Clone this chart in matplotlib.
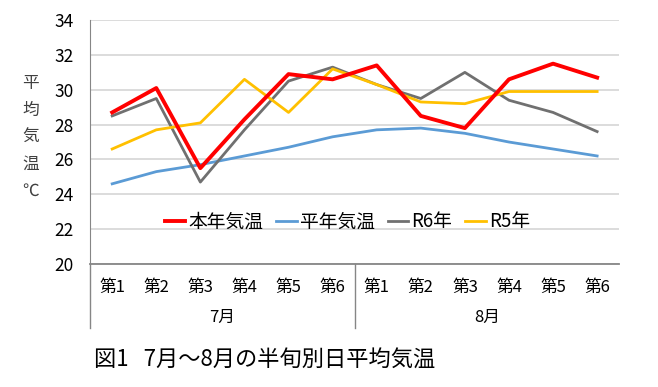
import matplotlib
matplotlib.use('Agg')
import matplotlib.pyplot as plt
from matplotlib.transforms import blended_transform_factory

plt.rcParams['font.family'] = ['Noto Sans CJK JP', 'DejaVu Sans']

# data
periods = ['第1', '第2', '第3', '第4', '第5', '第6'] * 2
months = ['7月', '8月']
honnen = [28.7, 30.1, 25.5, 28.3, 30.9, 30.6, 31.4, 28.5, 27.8, 30.6, 31.5, 30.7]
heinen = [24.6, 25.3, 25.7, 26.2, 26.7, 27.3, 27.7, 27.8, 27.5, 27.0, 26.6, 26.2]
r6 = [28.5, 29.5, 24.7, 27.7, 30.5, 31.3, 30.3, 29.5, 31.0, 29.4, 28.7, 27.6]
r5 = [26.6, 27.7, 28.1, 30.6, 28.7, 31.2, 30.3, 29.3, 29.2, 29.9, 29.9, 29.9]

fig = plt.figure(figsize=(6.58, 3.87), dpi=100)
ax = fig.add_axes([0.137, 0.318, 0.804, 0.630])

x = list(range(len(periods)))
ax.plot(x, honnen, color='#FF0000', lw=2.8, label='本年気温', zorder=5)
ax.plot(x, heinen, color='#5B9BD5', lw=2.0, label='平年気温', zorder=3)
ax.plot(x, r6, color='#707070', lw=2.0, label='R6年', zorder=3)
ax.plot(x, r5, color='#FFC000', lw=2.0, label='R5年', zorder=4)

ax.set_xlim(-0.5, len(periods) - 0.5)
ax.set_ylim(20, 34)
ax.set_yticks(range(20, 35, 2))
ax.yaxis.grid(True, color='#D9D9D9', lw=1.3)
ax.set_axisbelow(True)
for s in ['top', 'right']:
    ax.spines[s].set_visible(False)
ax.spines['left'].set_color('#868686')
ax.spines['bottom'].set_color('#868686')
ax.spines['bottom'].set_linewidth(1.3)
ax.tick_params(axis='y', length=0, labelsize=12.5, pad=12, labelcolor='#000000')
ax.set_xticks(x)
ax.set_xticklabels(periods)
ax.tick_params(axis='x', length=0, labelsize=12, pad=11)

# month labels and separators
trans = blended_transform_factory(ax.transData, ax.transAxes)
for i, m in enumerate(months):
    ax.text(i * 6 + 2.5, -0.218, m, transform=trans, ha='center', va='center', fontsize=12)
for xs in [-0.5, 5.5]:
    ax.plot([xs, xs], [0, -0.262], transform=trans, color='#868686', lw=1.0, clip_on=False)

ax.legend(loc='center', bbox_to_anchor=(0.486, 0.172), ncol=4, frameon=False,
          fontsize=13.5, handlelength=1.1, handletextpad=0.15, columnspacing=0.7)

fig.text(0.047, 0.645, '平\n均\n気\n温\n℃', ha='center', va='center', fontsize=12,
         linespacing=1.78, color='#404040')
fig.text(0.143, 0.07, '図1   7月～8月の半旬別日平均気温', ha='left', va='center', fontsize=16)

fig.savefig('out.png', dpi=100)
